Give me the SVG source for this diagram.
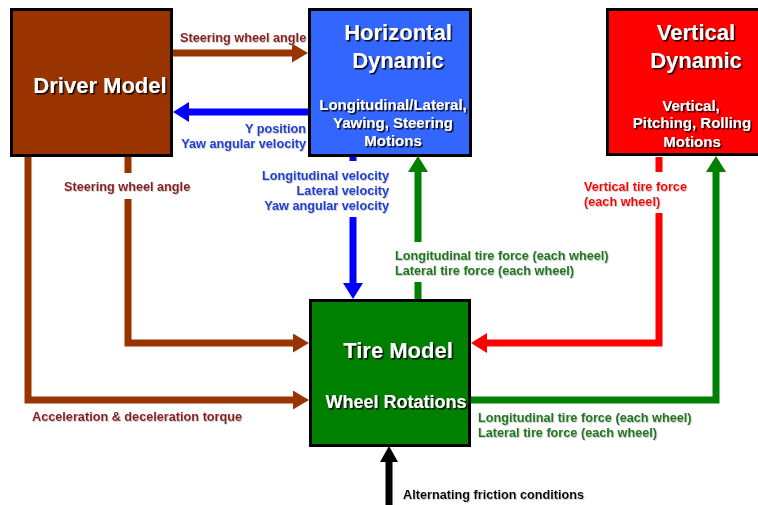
<svg xmlns="http://www.w3.org/2000/svg" width="758" height="505" viewBox="0 0 758 505">
<defs>
<filter id="sh" x="-10%" y="-20%" width="120%" height="150%"><feDropShadow dx="1.5" dy="1.5" stdDeviation="0.4" flood-color="#000" flood-opacity="0.9"/></filter>
<filter id="lsh" x="-5%" y="-20%" width="110%" height="150%"><feDropShadow dx="0.8" dy="0.8" stdDeviation="0.4" flood-color="#888" flood-opacity="0.5"/></filter>
<marker id="aBr" markerUnits="userSpaceOnUse" markerWidth="16" markerHeight="19" viewBox="0 0 16 19" refX="0" refY="9.5" orient="auto"><path d="M0,0 L16,9.5 L0,19 z" fill="#993300"/></marker>
<marker id="aBl" markerUnits="userSpaceOnUse" markerWidth="16" markerHeight="20" viewBox="0 0 16 20" refX="0" refY="10" orient="auto"><path d="M0,0 L16,10 L0,20 z" fill="#0000ff"/></marker>
<marker id="aGr" markerUnits="userSpaceOnUse" markerWidth="16" markerHeight="20" viewBox="0 0 16 20" refX="0" refY="10" orient="auto"><path d="M0,0 L16,10 L0,20 z" fill="#008000"/></marker>
<marker id="aRd" markerUnits="userSpaceOnUse" markerWidth="16" markerHeight="20" viewBox="0 0 16 20" refX="0" refY="10" orient="auto"><path d="M0,0 L16,10 L0,20 z" fill="#ff0000"/></marker>
<marker id="aBk" markerUnits="userSpaceOnUse" markerWidth="16" markerHeight="18" viewBox="0 0 16 18" refX="0" refY="9" orient="auto"><path d="M0,0 L16,9 L0,18 z" fill="#000"/></marker>
</defs>
<style>
.box{stroke:#000;stroke-width:3}
.t{font-family:"Liberation Sans",Arial,sans-serif;font-weight:bold;fill:#fff;text-anchor:middle;filter:url(#sh)}
.big{font-size:22px}
.sub{font-size:15px}
.lbl{font-family:"Liberation Sans",Arial,sans-serif;font-weight:bold;font-size:12.7px;filter:url(#lsh)}
.c{fill:none;stroke-width:7;stroke-linejoin:miter}
.dr{fill:#8b1a1a}.bl{fill:#1a3fd0}.gr{fill:#1a7a1a}.rd{fill:#ff0000}.bk{fill:#000}
</style>
<g id="driver">
<rect class="box" x="11.5" y="9.5" width="160" height="146" fill="#993300"/>
<text class="t big" x="100" y="93">Driver Model</text>
</g>
<g id="horizontal">
<rect class="box" x="309.5" y="9.5" width="161" height="146" fill="#3366ff"/>
<text class="t big" x="398" y="40">Horizontal</text>
<text class="t big" x="398" y="68">Dynamic</text>
<text class="t sub" x="393" y="110">Longitudinal/Lateral,</text>
<text class="t sub" x="393" y="128">Yawing, Steering</text>
<text class="t sub" x="393" y="146">Motions</text>
</g>
<g id="vertical">
<rect class="box" x="607.5" y="9.5" width="170" height="145" fill="#ff0000"/>
<text class="t big" x="696" y="40">Vertical</text>
<text class="t big" x="696" y="68">Dynamic</text>
<text class="t sub" x="691" y="111">Vertical,</text>
<text class="t sub" x="692" y="128">Pitching, Rolling</text>
<text class="t sub" x="692" y="147">Motions</text>
</g>
<g id="tire">
<rect class="box" x="310.5" y="300.5" width="159" height="145" fill="#008000"/>
<text class="t big" x="398" y="358">Tire Model</text>
<text class="t" style="font-size:18px" x="396" y="408">Wheel Rotations</text>
</g>
<g id="connectors">
<path class="c" stroke="#993300" d="M173,53 H292" marker-end="url(#aBr)"/>
<path class="c" stroke="#0000ff" d="M308,112 H189" marker-end="url(#aBl)"/>
<path class="c" stroke="#993300" d="M128,157 V173 M128,199 V343 H293" marker-end="url(#aBr)"/>
<path class="c" stroke="#993300" d="M28,157 V400 H293" marker-end="url(#aBr)"/>
<path class="c" stroke="#0000ff" d="M353,157 V161 M353,217 V283" marker-end="url(#aBl)"/>
<path class="c" stroke="#008000" d="M418,299 V282 M418,242 V172" marker-end="url(#aGr)"/>
<path class="c" stroke="#ff0000" d="M659,157 V172 M659,213 V343 H487" marker-end="url(#aRd)"/>
<path class="c" stroke="#008000" d="M471,400 H716 V172" marker-end="url(#aGr)"/>
<path class="c" stroke="#000" d="M389,505 V462" marker-end="url(#aBk)"/>
</g>
<g id="labels">
<text class="lbl dr" x="180" y="42">Steering wheel angle</text>
<text class="lbl bl" x="306" y="133" text-anchor="end">Y position</text>
<text class="lbl bl" x="306" y="148" text-anchor="end">Yaw angular velocity</text>
<text class="lbl dr" x="64" y="191">Steering wheel angle</text>
<text class="lbl dr" x="32" y="421">Acceleration &amp; deceleration torque</text>
<text class="lbl bl" x="389" y="180" text-anchor="end">Longitudinal velocity</text>
<text class="lbl bl" x="389" y="195" text-anchor="end">Lateral velocity</text>
<text class="lbl bl" x="389" y="210" text-anchor="end">Yaw angular velocity</text>
<text class="lbl gr" x="395" y="260">Longitudinal tire force (each wheel)</text>
<text class="lbl gr" x="395" y="275">Lateral tire force (each wheel)</text>
<text class="lbl rd" x="584" y="191">Vertical tire force</text>
<text class="lbl rd" x="584" y="206">(each wheel)</text>
<text class="lbl gr" x="478" y="422">Longitudinal tire force (each wheel)</text>
<text class="lbl gr" x="478" y="437">Lateral tire force (each wheel)</text>
<text class="lbl bk" x="403" y="499">Alternating friction conditions</text>
</g>
</svg>
